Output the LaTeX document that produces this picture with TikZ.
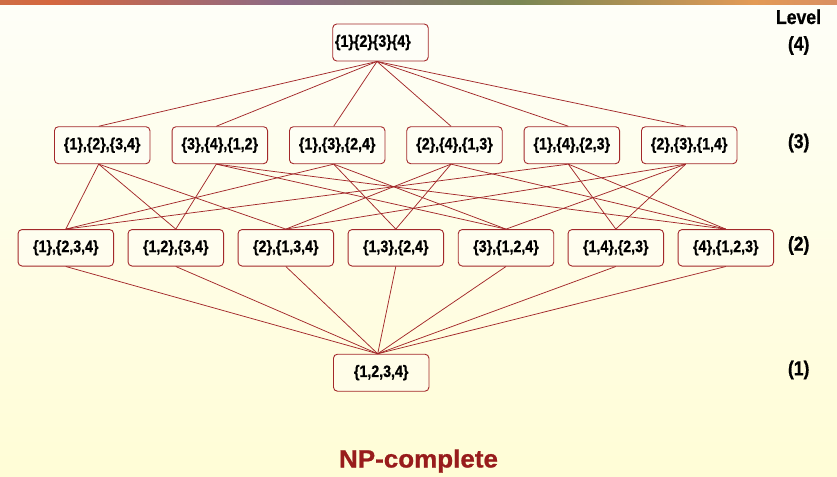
\documentclass[tikz,border=0pt]{standalone}
\usepackage{fontspec}
\setmainfont{Liberation Sans}
\newfontfamily\heavy[FakeBold=0.8]{Liberation Sans Bold}
\usepackage{graphicx}
\definecolor{edgered}{HTML}{A3282A}
\definecolor{titlered}{HTML}{981C1C}
\definecolor{bgtop}{HTML}{FEFEF8}
\definecolor{bgbot}{HTML}{FFFDD6}
\definecolor{sa}{HTML}{76687E}
\definecolor{sb}{HTML}{B98456}
\definecolor{sc}{HTML}{D5673F}
\definecolor{sd}{HTML}{8C6A86}
\definecolor{se}{HTML}{7A8754}
\definecolor{sf}{HTML}{E39A55}
\definecolor{sg}{HTML}{C77A7A}
\definecolor{sh}{HTML}{66758F}
\pgfdeclarehorizontalshading{stripshade}{100bp}{color(0bp)=(sa); color(14bp)=(sb); color(28bp)=(sc); color(42bp)=(sd); color(56bp)=(se); color(70bp)=(sf); color(84bp)=(sg); color(100bp)=(sh)}
\newcommand{\hsq}[1]{\scalebox{0.86}[1]{#1}}
\newcommand{\hlv}[1]{\scalebox{0.88}[1]{#1}}
\tikzset{
  part/.style={draw=edgered, line width=0.9pt, rounded corners=4pt, fill=white, fill opacity=0.35, text opacity=1,
    minimum width=95.5pt, minimum height=37pt, inner sep=0pt, font=\heavy\fontsize{16.5}{16.5}\selectfont},
  lvl/.style={font=\heavy\fontsize{20}{20}\selectfont, inner sep=0pt},
  link/.style={draw=edgered, line width=0.75pt}
}
\begin{document}
\begin{tikzpicture}[x=1pt,y=-1pt]
\useasboundingbox (0,0) rectangle (837,476);
\shade[top color=bgtop, bottom color=bgbot] (0,0) rectangle (837,476);
\fill[shading=stripshade] (0,0) rectangle (837,4.5);

% level 4
\node[part] (T) at (380.5,42.5) {\makebox[91pt][l]{\hsq{\{1\}\{2\}\{3\}\{4\}}}};
% level 3
\node[part] (A) at (102.2,145.2) {\hsq{\{1\},\{2\},\{3,4\}}};
\node[part] (B) at (219.8,145.2) {\hsq{\{3\},\{4\},\{1,2\}}};
\node[part] (C) at (337.2,145.2) {\hsq{\{1\},\{3\},\{2,4\}}};
\node[part] (D) at (454.5,145.2) {\hsq{\{2\},\{4\},\{1,3\}}};
\node[part] (E) at (571.8,145.2) {\hsq{\{1\},\{4\},\{2,3\}}};
\node[part] (F) at (689.2,145.2) {\hsq{\{2\},\{3\},\{1,4\}}};
% level 2
\node[part, minimum height=36.5pt] (a) at (65.8,247.8) {\hsq{\{1\},\{2,3,4\}}};
\node[part, minimum height=36.5pt] (b) at (175.8,247.8) {\hsq{\{1,2\},\{3,4\}}};
\node[part, minimum height=36.5pt] (c) at (285.8,247.8) {\hsq{\{2\},\{1,3,4\}}};
\node[part, minimum height=36.5pt] (d) at (395.8,247.8) {\hsq{\{1,3\},\{2,4\}}};
\node[part, minimum height=36.5pt] (e) at (506.0,247.8) {\hsq{\{3\},\{1,2,4\}}};
\node[part, minimum height=36.5pt] (f) at (615.8,247.8) {\hsq{\{1,4\},\{2,3\}}};
\node[part, minimum height=36.5pt] (g) at (725.8,247.8) {\hsq{\{4\},\{1,2,3\}}};
% level 1
\node[part] (Z) at (381.2,372.7) {\hsq{\{1,2,3,4\}}};

% edges top -> level 3
\foreach \n in {A,B,C,D,E,F}
  \draw[link] ([xshift=-3.5pt]T.south) -- ([xshift=-3.5pt]\n.north);
% level 3 -> level 2
\foreach \u/\v in {A/a,A/b,A/c,B/b,B/e,B/g,C/a,C/d,C/e,D/c,D/d,D/g,E/a,E/f,E/g,F/c,F/e,F/f}
  \draw[link] ([xshift=-3.5pt]\u.south) -- (\v.north);
% level 2 -> bottom
\foreach \n in {a,b,c,d,e,f,g}
  \draw[link] (\n.south) -- ([xshift=-3.5pt]Z.north);

% level labels
\node[lvl, anchor=base] (L0) at (798.5,24) {\hlv{Level}};
\node[lvl] (L4) at (798.7,45.5) {\hlv{(4)}};
\node[lvl] (L3) at (798.7,143) {\hlv{(3)}};
\node[lvl] (L2) at (798.7,245.5) {\hlv{(2)}};
\node[lvl] (L1) at (798.7,370) {\hlv{(1)}};

% title
\node[anchor=base, inner sep=0pt, text=titlered, font=\heavy\fontsize{25}{25}\selectfont] (NP) at (418.5,467.5) {\scalebox{1.04}[1]{NP-complete}};
\end{tikzpicture}
\end{document}
